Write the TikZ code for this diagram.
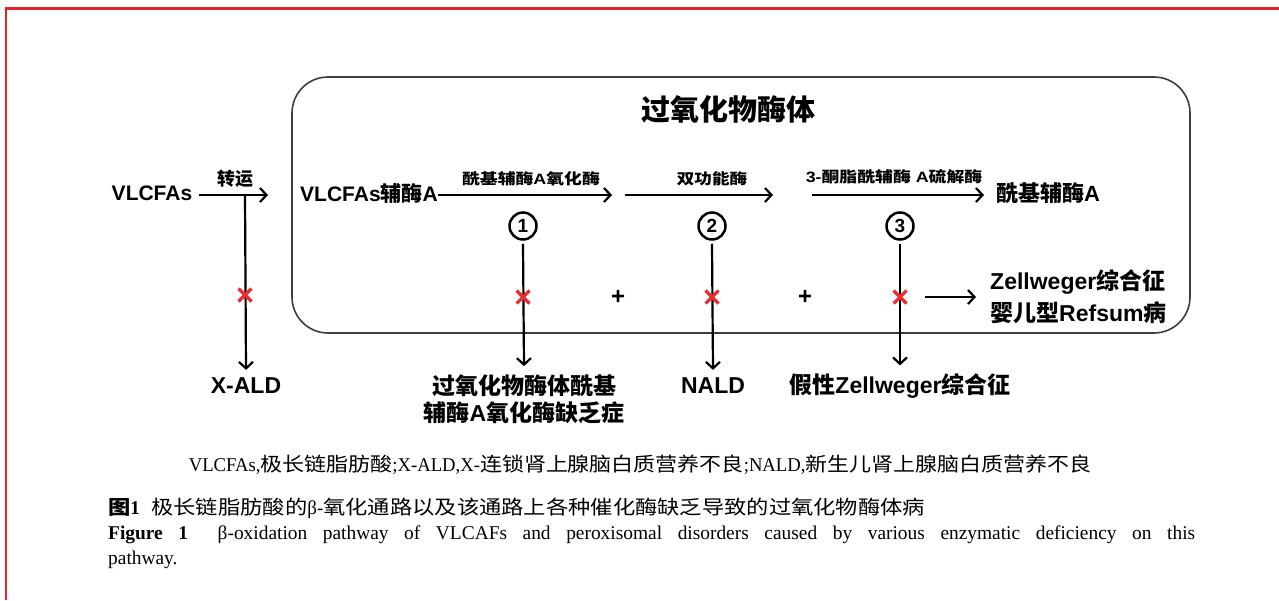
\documentclass[tikz,border=0pt]{standalone}
\usepackage{fontspec}
\setmainfont{Liberation Sans}
\newfontfamily\cjk{Noto Sans CJK SC}
\newfontfamily\capserif{Liberation Serif}[FakeStretch=0.85]
\newcommand\zh[1]{{\cjk #1}}
\usetikzlibrary{arrows.meta}
\definecolor{framered}{RGB}{230,35,42}
\definecolor{crossred}{RGB}{236,45,50}
\definecolor{boxgray}{RGB}{60,60,60}
\begin{document}
\begin{tikzpicture}[x=1pt,y=-1pt,
  lbl/.style={font=\fontsize{21}{27}\selectfont\bfseries, inner sep=0pt},
  big/.style={font=\fontsize{23}{27}\selectfont\bfseries, inner sep=0pt},
  enz/.style={font=\fontsize{15}{18}\selectfont\bfseries, inner sep=0pt},
  ttl/.style={font=\fontsize{29}{32}\selectfont\bfseries, inner sep=0pt},
  arr/.style={line width=2.2pt, -{Straight Barb[length=6.5pt,width=14pt,line width=2.2pt]}},
  num/.style={circle, draw, line width=2.5pt, minimum size=27pt, inner sep=0pt, font=\fontsize{19}{19}\selectfont\bfseries},
  plus/.style={font=\fontsize{24}{24}\selectfont\bfseries, inner sep=0pt},
  xm/.pic={\draw[crossred, line width=3.2pt] (-6.5,-6.5) -- (6.5,6.5) (-6.5,6.5) -- (6.5,-6.5);},
  capt/.style={font=\fontsize{19.5}{25}\selectfont\capserif, inner sep=0pt}]
\useasboundingbox (0,0) rectangle (1279,600);
% red frame (top and left)
\draw[framered, line width=2.6pt] (1279,8.5) -- (6,8.5) -- (6,600);
% peroxisome box
\draw[boxgray, line width=1.6pt, rounded corners=36pt] (292,77) rectangle (1190,333);
\node[ttl] (title) at (728,109) {\zh{过氧化物酶体}};

% main row
\node[lbl] (vl) at (152,193) {VLCFAs};
\node[lbl, anchor=west] (vlc) at (300,193) {VLCFAs\zh{辅酶}A};
\node[lbl, font=\fontsize{22}{27}\selectfont\bfseries, anchor=west] (acoa) at (996,193) {\zh{酰基辅酶}A};
\coordinate (e0) at (268,195);
\coordinate (s2) at (625,195);
\coordinate (e1) at (612,195);
\coordinate (e2) at (773,195);
\coordinate (s3) at (812,195);
\coordinate (j0) at (245,195);
\draw[arr] ([xshift=7pt]vl.east |- e0) -- (e0);
\draw[arr] (vlc.east |- e1) -- (e1);
\draw[arr] (s2) -- (e2);
\draw[arr] (s3) -- ([xshift=-12pt]acoa.west |- s3);

\node[lbl, font=\fontsize{18}{20}\selectfont\bfseries] (ty) at (235,179) {\zh{转运}};
\node[enz] (en1) at (531,179) {\scalebox{1.19}[1]{\zh{酰基辅酶}A\zh{氧化酶}}};
\node[enz] (en2) at (712,179) {\scalebox{1.17}[1]{\zh{双功能酶}}};
\node[enz] (en3) at (894,177) {\scalebox{1.19}[1]{3-\zh{酮脂酰辅酶} A\zh{硫解酶}}};

\node[num] (n1) at (523,226) {1};
\node[num] (n2) at (712,226) {2};
\node[num] (n3) at (900,226) {3};

% disease nodes
\node[big] (xald) at (246,386) {X-ALD};
\node[big, align=center] (d1) at (524,399) {\zh{过氧化物酶体酰基}\\\zh{辅酶}A\zh{氧化酶缺乏症}};
\node[big] (nald) at (713,386) {NALD};
\node[big] (pz) at (900,386) {\zh{假性}Zellweger\zh{综合征}};
\node[big, font=\fontsize{23}{32}\selectfont\bfseries, align=left, anchor=west] (zw) at (990,297) {Zellweger\zh{综合征}\\\zh{婴儿型}Refsum\zh{病}};

% vertical arrows
\draw[arr] (j0) -- ([yshift=8pt]xald.north);
\draw[arr] ([yshift=-3pt]n1.south) -- ([yshift=8pt]d1.north);
\draw[arr] ([yshift=-3pt]n2.south) -- ([yshift=8pt]nald.north);
\draw[arr] ([yshift=-3pt]n3.south) -- ([yshift=8pt]pz.north);

% crosses
\pic at (245,295) {xm};
\pic at (523,297) {xm};
\pic at (712,297) {xm};
\pic at (900,297) {xm};
\node[plus] (p1) at (618,297) {+};
\node[plus] (p2) at (805,297) {+};
\coordinate (hs) at (925,297);
\draw[arr] (hs) -- ([xshift=-14pt]zw.west);

% caption
\node[capt] (c1) at (640,465) {\scalebox{1.127}[1]{VLCFAs,\zh{极长链脂肪酸};X-ALD,X-\zh{连锁肾上腺脑白质营养不良};NALD,\zh{新生儿肾上腺脑白质营养不良}}};
\node[capt, anchor=west] (c2) at (108,508) {\scalebox{1.143}[1]{\textbf{\zh{图}1}\hspace{10pt}\zh{极长链脂肪酸的}β-\zh{氧化通路以及该通路上各种催化酶缺乏导致的过氧化物酶体病}}};
\node[capt, anchor=north west] (c3) at (108,526) {\scalebox{1.17}[1]{\parbox{929pt}{\textbf{Figure 1}\hspace{12pt} β-oxidation pathway of VLCAFs and peroxisomal disorders caused by various enzymatic deficiency on this\linebreak pathway.}}};
\end{tikzpicture}
\end{document}
